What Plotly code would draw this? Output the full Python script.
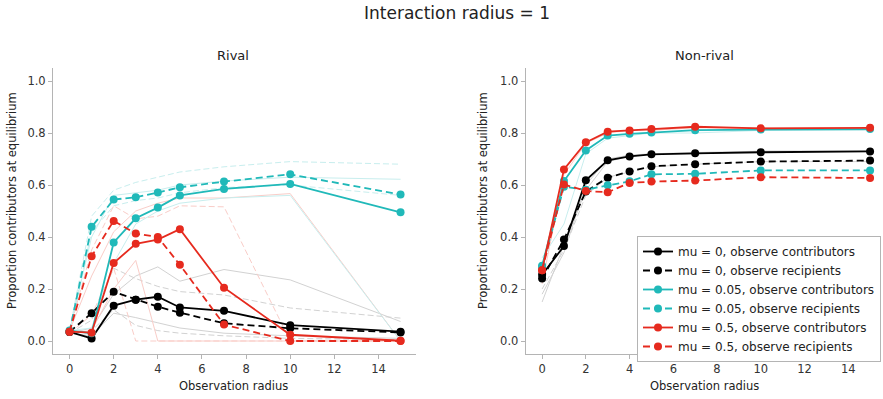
import plotly.graph_objects as go

# ---------------- data ----------------
radius = [0, 1, 2, 3, 4, 5, 7, 10, 15]

# Rival (left panel)
rival_mu0_contrib = [0.035, 0.010, 0.136, 0.159, 0.170, 0.129, 0.116, 0.061, 0.036]
rival_mu0_recip = [0.035, 0.107, 0.189, 0.159, 0.132, 0.109, 0.068, 0.049, 0.033]
rival_mu005_contrib = [0.040, 0.030, 0.379, 0.472, 0.513, 0.560, 0.585, 0.604, 0.495]
rival_mu005_recip = [0.036, 0.439, 0.544, 0.553, 0.571, 0.591, 0.613, 0.641, 0.563]
rival_mu05_contrib = [0.036, 0.032, 0.300, 0.374, 0.390, 0.430, 0.205, 0.024, 0.001]
rival_mu05_recip = [0.036, 0.326, 0.462, 0.413, 0.400, 0.293, 0.063, 0.000, 0.000]

# Non-rival (right panel)
nonrival_mu0_contrib = [0.255, 0.365, 0.618, 0.695, 0.710, 0.718, 0.722, 0.726, 0.729]
nonrival_mu0_recip = [0.240, 0.390, 0.575, 0.628, 0.652, 0.672, 0.680, 0.690, 0.694]
nonrival_mu005_contrib = [0.289, 0.615, 0.733, 0.790, 0.797, 0.802, 0.811, 0.813, 0.815]
nonrival_mu005_recip = [0.285, 0.593, 0.582, 0.599, 0.614, 0.641, 0.643, 0.656, 0.656]
nonrival_mu05_contrib = [0.272, 0.660, 0.764, 0.805, 0.810, 0.815, 0.824, 0.818, 0.820]
nonrival_mu05_recip = [0.272, 0.602, 0.577, 0.572, 0.608, 0.613, 0.617, 0.630, 0.627]

# faint background runs (rival)
rival_faint_gray_solid = [
    [0.03, 0.05, 0.18, 0.25, 0.285, 0.23, 0.275, 0.235, 0.075],
    [0.03, 0.02, 0.107, 0.09, 0.07, 0.05, 0.03, 0.02, 0.01],
]
rival_faint_gray_dash = [
    [0.03, 0.08, 0.28, 0.24, 0.21, 0.19, 0.177, 0.127, 0.088],
    [0.03, 0.04, 0.12, 0.06, 0.04, 0.03, 0.02, 0.01, 0.005],
]
rival_faint_red_solid = [
    [0.03, 0.04, 0.20, 0.31, 0.0, 0.0, 0.0, 0.0, 0.0],
    [0.04, 0.25, 0.42, 0.50, 0.53, 0.55, 0.55, 0.567, 0.0],
]
rival_faint_red_dash = [
    [0.03, 0.10, 0.28, 0.0, 0.0, 0.0, 0.0, 0.0, 0.0],
    [0.04, 0.35, 0.52, 0.47, 0.48, 0.52, 0.516, 0.0, 0.0],
]
rival_faint_cyan_solid = [
    [0.04, 0.40, 0.56, 0.57, 0.58, 0.60, 0.615, 0.63, 0.622],
    [0.04, 0.05, 0.30, 0.45, 0.50, 0.53, 0.55, 0.56, 0.0],
]
rival_faint_cyan_dash = [
    [0.04, 0.48, 0.58, 0.61, 0.63, 0.65, 0.67, 0.69, 0.68],
    [0.04, 0.42, 0.52, 0.54, 0.55, 0.57, 0.59, 0.60, 0.56],
]

# faint background runs (non-rival)
nonrival_faint_gray_solid = [
    [0.15, 0.37, 0.58, 0.69, 0.71, 0.72, 0.72, 0.73, 0.73],
    [0.18, 0.34, 0.60, 0.70, 0.715, 0.72, 0.725, 0.73, 0.73],
]
nonrival_faint_gray_dash = [
    [0.20, 0.35, 0.56, 0.63, 0.65, 0.67, 0.68, 0.69, 0.69],
]
nonrival_faint_red_solid = [
    [0.22, 0.64, 0.76, 0.80, 0.81, 0.81, 0.82, 0.82, 0.82],
]
nonrival_faint_cyan_solid = [
    [0.32, 0.45, 0.72, 0.78, 0.79, 0.80, 0.80, 0.81, 0.81],
]

legend_labels = [
    "mu = 0, observe contributors",
    "mu = 0, observe recipients",
    "mu = 0.05, observe contributors",
    "mu = 0.05, observe recipients",
    "mu = 0.5, observe contributors",
    "mu = 0.5, observe recipients",
]

x_ticks = [0, 2, 4, 6, 8, 10, 12, 14]
y_ticks = [0.0, 0.2, 0.4, 0.6, 0.8, 1.0]

# ---------------- styles ----------------
BLACK = "#000000"
CYAN = "#20b9b9"
RED = "#e62a1e"
F_GRAY = "#d2d2d2"
F_RED = "#f9cdc8"
F_CYAN = "#c8eeee"
FONT = "DejaVu Sans"
MAIN_DASH = "7px,4px"
FAINT_DASH = "6px,3px"

fig = go.Figure()


def faint(series_list, color, dash, xa, ya):
    for s in series_list:
        fig.add_trace(go.Scatter(
            x=radius, y=s, mode="lines", xaxis=xa, yaxis=ya,
            line=dict(color=color, width=1, dash=dash),
            showlegend=False, hoverinfo="skip"))


faint(rival_faint_gray_solid, F_GRAY, "solid", "x", "y")
faint(rival_faint_gray_dash, F_GRAY, FAINT_DASH, "x", "y")
faint(rival_faint_red_solid, F_RED, "solid", "x", "y")
faint(rival_faint_red_dash, F_RED, FAINT_DASH, "x", "y")
faint(rival_faint_cyan_solid, F_CYAN, "solid", "x", "y")
faint(rival_faint_cyan_dash, F_CYAN, FAINT_DASH, "x", "y")
faint(nonrival_faint_gray_solid, F_GRAY, "solid", "x2", "y2")
faint(nonrival_faint_gray_dash, F_GRAY, FAINT_DASH, "x2", "y2")
faint(nonrival_faint_red_solid, F_RED, "solid", "x2", "y2")
faint(nonrival_faint_cyan_solid, F_CYAN, "solid", "x2", "y2")

main_styles = [
    (BLACK, "solid"), (BLACK, MAIN_DASH),
    (CYAN, "solid"), (CYAN, MAIN_DASH),
    (RED, "solid"), (RED, MAIN_DASH),
]
rival_series = [rival_mu0_contrib, rival_mu0_recip, rival_mu005_contrib,
                rival_mu005_recip, rival_mu05_contrib, rival_mu05_recip]
nonrival_series = [nonrival_mu0_contrib, nonrival_mu0_recip, nonrival_mu005_contrib,
                   nonrival_mu005_recip, nonrival_mu05_contrib, nonrival_mu05_recip]

for (color, dash), label, s in zip(main_styles, legend_labels, rival_series):
    fig.add_trace(go.Scatter(
        x=radius, y=s, mode="lines+markers", xaxis="x", yaxis="y",
        line=dict(color=color, width=1.8, dash=dash),
        marker=dict(color=color, size=8),
        name=label, legendgroup=label, showlegend=False))

for (color, dash), label, s in zip(main_styles, legend_labels, nonrival_series):
    fig.add_trace(go.Scatter(
        x=radius, y=s, mode="lines+markers", xaxis="x2", yaxis="y2",
        line=dict(color=color, width=1.8, dash=dash),
        marker=dict(color=color, size=8),
        name=label, legendgroup=label, showlegend=True))

axis_common = dict(
    showgrid=False, zeroline=False, showline=True, linecolor="#b4b4b4", linewidth=1,
    ticks="outside", ticklen=4, tickcolor="#b4b4b4", tickwidth=1,
    tickfont=dict(family=FONT, size=11.5, color="#333333"),
)
ydom = [45 / 399, 331 / 399]

fig.update_layout(
    width=883, height=399,
    margin=dict(l=0, r=0, t=0, b=0),
    paper_bgcolor="white", plot_bgcolor="white",
    font=dict(family=FONT, color="#222222"),
    xaxis=dict(domain=[53 / 883, 416 / 883], range=[-0.75, 15.7],
               tickvals=x_ticks, **axis_common),
    yaxis=dict(domain=ydom, range=[-0.05, 1.05], tickvals=y_ticks,
               tickformat=".1f", anchor="x", **axis_common),
    xaxis2=dict(domain=[525.7 / 883, 881 / 883], range=[-0.75, 15.5],
                tickvals=x_ticks, anchor="y2", **axis_common),
    yaxis2=dict(domain=ydom, range=[-0.05, 1.05], tickvals=y_ticks,
                tickformat=".1f", anchor="x2", **axis_common),
    showlegend=True,
    legend=dict(x=637 / 883, y=(399 - 236) / 399, xanchor="left", yanchor="top",
                bgcolor="white", bordercolor="#b4b4b4", borderwidth=1,
                font=dict(family=FONT, size=12, color="#222222"),
                itemwidth=30, tracegroupgap=0),
)


def text_ann(text, px, py, size, angle=0):
    return dict(text=text, x=px / 883, y=1 - py / 399, xref="paper", yref="paper",
                xanchor="center", yanchor="middle", showarrow=False, textangle=angle,
                font=dict(family=FONT, size=size, color="#222222"))


ann = [text_ann("Interaction radius = 1", 457, 13, 17)]
for t, cx in [("Rival", 233), ("Non-rival", 704)]:
    ann.append(text_ann(t, cx, 55, 13))
for cx in [233, 704]:
    ann.append(text_ann("Observation radius", cx, 386, 11.5))
for cx in [12, 483]:
    ann.append(text_ann("Proportion contributors at equilibrium", cx, 201, 11.5, -90))
fig.update_layout(annotations=ann)

fig.write_html("out.html")
